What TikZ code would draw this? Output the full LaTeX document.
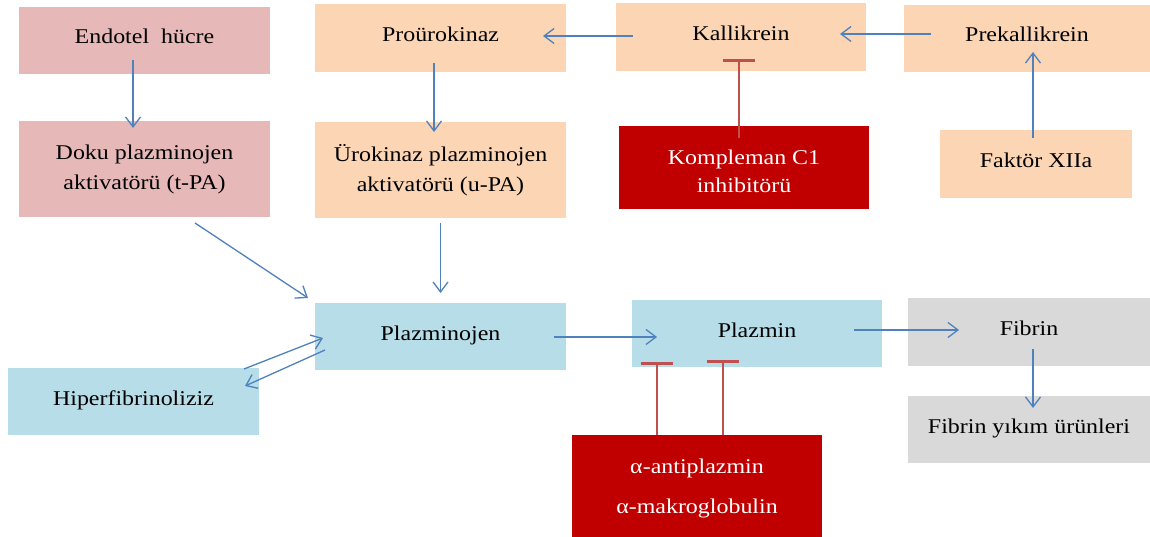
\documentclass[tikz,border=0pt]{standalone}
\usepackage{fontspec}
\setmainfont[FakeStretch=1.14]{Liberation Serif}
\usetikzlibrary{arrows.meta,calc}
\definecolor{pinkbox}{HTML}{E6B9B8}
\definecolor{peachbox}{HTML}{FCD5B5}
\definecolor{bluebox}{HTML}{B7DEE8}
\definecolor{greybox}{HTML}{D9D9D9}
\definecolor{redbox}{HTML}{C00000}
\definecolor{arrowblue}{HTML}{4F81BD}
\definecolor{inhred}{HTML}{C0504D}
\begin{document}
\begin{tikzpicture}[x=1pt,y=-1pt,
  box/.style={rectangle,inner sep=0pt,align=center,font=\fontsize{21}{30}\selectfont},
  oneline/.style={text height=15pt,text depth=8pt},
  arr/.style={draw=arrowblue,line width=1.3pt,-{Straight Barb[length=10pt,width=15pt]}},
  inh/.style={draw=inhred,line width=2.6pt,-{Bar[width=32pt]}}]
\useasboundingbox[fill=white] (0,0) rectangle (1150,537);
% top row and second row
\node[box,oneline,fill=pinkbox,minimum width=251pt,minimum height=67pt] (endo) at (144.5,40.5) {Endotel\ \ hücre};
\node[box,fill=pinkbox,minimum width=251pt,minimum height=96pt] (doku) at (144.5,169) {Doku plazminojen\\aktivatörü (t-PA)};
\node[box,oneline,fill=peachbox,minimum width=251pt,minimum height=68pt] (pro) at (440.5,38) {Proürokinaz};
\node[box,fill=peachbox,minimum width=251pt,minimum height=96pt] (uro) at (440.5,170) {Ürokinaz plazminojen\\aktivatörü (u-PA)};
\node[box,oneline,fill=peachbox,minimum width=250pt,minimum height=68pt] (kal) at (741,37) {Kallikrein};
\node[box,oneline,fill=peachbox,minimum width=246pt,minimum height=67pt] (prek) at (1027,38.5) {Prekallikrein};
\node[box,fill=redbox,text=white,minimum width=250pt,minimum height=83pt,font=\fontsize{21}{28}\selectfont,text height=50.3pt] (komp) at (744,167.5) {Kompleman C1\\inhibitörü};
\node[box,oneline,fill=peachbox,minimum width=192pt,minimum height=68pt] (fak) at (1036,164) {Faktör XIIa};
% lower part
\node[box,oneline,fill=bluebox,minimum width=251pt,minimum height=67pt] (plg) at (440.5,336.5) {Plazminojen};
\node[box,oneline,fill=bluebox,minimum width=251pt,minimum height=67pt] (hip) at (133.5,401.5) {Hiperfibrinoliziz};
\node[box,oneline,fill=bluebox,minimum width=250pt,minimum height=67pt] (plm) at (757,333.5) {Plazmin};
\node[box,oneline,fill=greybox,minimum width=242pt,minimum height=68pt] (fib) at (1029,332) {Fibrin};
\node[box,oneline,fill=greybox,minimum width=242pt,minimum height=67pt] (fyu) at (1029,429.5) {Fibrin yıkım ürünleri};
\node[box,fill=redbox,text=white,minimum width=250pt,minimum height=102pt,font=\fontsize{21}{40}\selectfont,text height=60pt] (alpha) at (697,486) {α-antiplazmin\\α-makroglobulin};
% activating arrows
\draw[arr] ($(endo.center)+(-11.5,19.5)$) -- ($(doku.center)+(-11.5,-41)$);
\draw[arr] ($(pro.center)+(-6.5,25)$) -- ($(uro.center)+(-6.5,-38)$);
\draw[arr] ($(kal.center)+(-108,-1)$) -- ($(pro.center)+(102.5,-2)$);
\draw[arr] ($(prek.center)+(-96,-4.5)$) -- ($(kal.center)+(99,-3)$);
\draw[arr] ($(fak.center)+(-3,-26)$) -- ($(prek.center)+(6,13.5)$);
\draw[arr] ($(doku.center)+(50.5,54)$) -- ($(plg.center)+(-132.5,-38.5)$);
\draw[arr] ($(uro.center)+(0,53)$) -- ($(plg.center)+(0,-43.5)$);
\draw[arr] ($(plg.center)+(113.5,0.5)$) -- ($(plm.center)+(-100,3.5)$);
\draw[arr] ($(plm.center)+(97,-3.5)$) -- ($(fib.center)+(-70,-2)$);
\draw[arr] ($(fib.center)+(4,17)$) -- ($(fyu.center)+(4,-21.5)$);
\draw[arr] ($(hip.center)+(110.5,-32.5)$) -- ($(plg.center)+(-117.5,1.5)$);
\draw[arr] ($(plg.center)+(-115.5,13.5)$) -- ($(hip.center)+(111.5,-15.5)$);
% inhibitions
\draw[inh] ($(komp.center)+(-5,-29.5)$) -- ($(kal.center)+(-2,22)$);
\draw[inh] ($(alpha.center)+(-40,-51)$) -- ($(plm.center)+(-100,28.5)$);
\draw[inh] ($(alpha.center)+(26,-51)$) -- ($(plm.center)+(-34,26.5)$);
\end{tikzpicture}
\end{document}
